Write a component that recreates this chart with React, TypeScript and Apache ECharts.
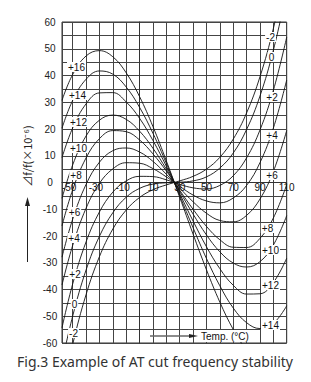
import React, { useEffect, useRef } from 'react';
import * as echarts from 'echarts';

// Temperature sample points (°C)
const temps = [-58, -50, -40, -30, -20, -10, 0, 10, 20, 30, 40, 50, 60, 70, 80, 90, 100, 110];

// Δf/f (ppm) for each cut-angle deviation curve
const curveP16 = [30.7, 40.4, 47.3, 49.3, 47.0, 41.0, 32.1, 20.9, 8.1, -5.5, -19.3, -32.6, -44.7, -54.9, -62.6, -67.0, -67.4, -63.2];
const curveP14 = [20.3, 30.7, 38.6, 41.7, 40.5, 35.7, 28.1, 18.4, 7.2, -4.9, -16.9, -28.4, -38.6, -46.9, -52.4, -54.6, -52.7, -46.1];
const curveP12 = [9.3, 20.4, 29.4, 33.5, 33.6, 30.1, 24.0, 15.7, 6.1, -4.2, -14.4, -24.0, -32.2, -38.4, -41.7, -41.6, -37.4, -28.3];
const curveP10 = [-5.9, 6.6, 17.4, 23.3, 25.2, 23.6, 19.2, 12.8, 5.0, -3.4, -11.8, -19.6, -25.9, -30.1, -31.6, -29.6, -23.4, -12.4];
const curveP8 = [-16.2, -2.7, 9.2, 16.4, 19.4, 19.0, 15.9, 10.7, 4.3, -2.9, -10.0, -16.4, -21.4, -24.2, -24.3, -20.9, -13.3, -0.8];
const curveP6 = [-27.9, -13.7, -0.7, 7.6, 11.9, 12.9, 11.4, 7.9, 3.1, -2.1, -7.2, -11.5, -14.2, -14.7, -12.3, -6.2, 4.1, 19.4];
const curveP4 = [-38.3, -23.5, -9.6, -0.3, 5.1, 7.4, 7.2, 5.2, 2.1, -1.4, -4.7, -6.9, -7.6, -5.8, -1.1, 7.4, 20.3, 38.3];
const curveP2 = [-54.3, -37.9, -22.2, -11.0, -3.6, 0.6, 2.3, 2.2, 1.0, -0.7, -2.0, -2.4, -1.1, 2.5, 9.2, 19.6, 34.4, 54.3];
const curve0 = [-67.3, -49.9, -32.7, -20.1, -11.3, -5.5, -2.2, -0.6, -0.1, 0.1, 0.6, 2.1, 5.4, 11.0, 19.8, 32.3, 49.4, 71.5];
const curveM2 = [-79.2, -60.5, -41.9, -27.7, -17.4, -10.3, -5.6, -2.7, -0.9, 0.6, 2.3, 5.0, 9.4, 16.2, 26.0, 39.5, 57.5, 80.6];

const curves = [curveP16, curveP14, curveP12, curveP10, curveP8, curveP6, curveP4, curveP2, curve0, curveM2];
const curveNames = ['+16', '+14', '+12', '+10', '+8', '+6', '+4', '+2', '0', '-2'];

// Axis tick labels
const xTickLabels = [-50, -30, -10, 10, 30, 50, 70, 90, 110];
const yTickLabels = [60, 50, 40, 30, 20, 10, 0, -10, -20, -30, -40, -50, -60];

const FONT = "'Liberation Sans', Arial, sans-serif";

export default function App() {
  const ref = useRef<HTMLDivElement>(null);

  useEffect(() => {
    document.body.style.margin = '0';
    if (!ref.current) return;
    const chart = echarts.init(ref.current, null, { renderer: 'svg' });

    const series: any[] = curves.map((vals, i) => ({
      type: 'line',
      name: curveNames[i],
      data: temps.map((t, j) => [t, vals[j]]),
      showSymbol: false,
      smooth: 0.4,
      clip: true,
      lineStyle: { color: '#111', width: 0.9 },
      z: 3,
    }));

    const leftLabelPos: [string, number, number][] = [
      ['+16', 76.5, 67], ['+14', 77.5, 95], ['+12', 78.5, 122], ['+10', 78.5, 148], ['+8', 76, 175],
      ['+6', 74.5, 212], ['+4', 74, 238], ['+2', 75, 274], ['0', 74.5, 304], ['-2', 73.5, 333],
    ];
    const rightLabelPos: [string, number, number][] = [
      ['-2', 270.5, 37], ['0', 271.5, 57], ['+2', 272, 97], ['+4', 272, 135], ['+6', 272, 175],
      ['+8', 267.5, 228], ['+10', 270.5, 250], ['+12', 270.5, 285], ['+14', 270.5, 325],
    ];
    const curveLabel = ([t, x, y]: [string, number, number]) => ({
      type: 'text',
      x,
      y,
      z: 100,
      style: {
        text: t,
        fill: '#111',
        font: `10px ${FONT}`,
        align: 'center',
        verticalAlign: 'middle',
        backgroundColor: '#fff',
        padding: [0, 1],
      },
    });

    const graphic: any[] = [
      ...leftLabelPos.map(curveLabel),
      ...rightLabelPos.map(curveLabel),
      // y-axis title
      {
        type: 'text',
        x: 27,
        y: 156,
        rotation: Math.PI / 2,
        z: 100,
        style: {
          text: '⊿f/f(×10⁻⁶)',
          fill: '#222',
          font: "11px 'Noto Sans CJK JP', sans-serif",
          align: 'center',
          verticalAlign: 'middle',
        },
      },
      {
        type: 'line',
        z: 100,
        shape: { x1: 27.5, y1: 204, x2: 27.5, y2: 262 },
        style: { stroke: '#222', lineWidth: 1 },
      },
      {
        type: 'polygon',
        z: 100,
        shape: { points: [[27.5, 197], [25, 206], [30, 206]] },
        style: { fill: '#222' },
      },
      // Temp. arrow
      {
        type: 'line',
        z: 100,
        shape: { x1: 150, y1: 336, x2: 192, y2: 336 },
        style: { stroke: '#666', lineWidth: 1.6 },
      },
      {
        type: 'polygon',
        z: 100,
        shape: { points: [[198, 336], [189, 334], [189, 338]] },
        style: { fill: '#222' },
      },
      {
        type: 'text',
        x: 199,
        y: 336,
        z: 100,
        style: {
          text: 'Temp. (°C)',
          fill: '#111',
          font: `10px ${FONT}`,
          align: 'left',
          verticalAlign: 'middle',
          backgroundColor: '#fff',
          padding: [1, 2],
        },
      },
      // caption
      {
        type: 'text',
        x: 17,
        y: 361,
        z: 100,
        style: {
          text: 'Fig.3 Example of AT cut frequency stability',
          fill: '#333',
          font: "14px 'Noto Sans', sans-serif",
          align: 'left',
          verticalAlign: 'middle',
        },
      },
    ];

    const option: any = {
      animation: false,
      backgroundColor: '#fff',
      grid: {
        left: 62,
        top: 22,
        width: 224.7,
        height: 321,
        show: true,
        borderColor: '#333',
        borderWidth: 1,
      },
      xAxis: {
        type: 'value',
        min: -58,
        max: 110,
        splitNumber: 17,
        offset: -160.5,
        axisLine: { show: true, onZero: false, lineStyle: { color: '#333', width: 1 } },
        axisTick: { show: false },
        axisLabel: {
          show: true,
          margin: 0,
          color: '#111',
          fontSize: 10,
          fontFamily: FONT,
          formatter: (v: number) => {
            if (!xTickLabels.includes(v)) return '';
            return v < 0 ? `{n|${v}}` : `${v}`;
          },
          rich: {
            n: { fontSize: 10, fontFamily: FONT, color: '#111', padding: [0, 7, 0, 0] },
          },
        },
        splitLine: { show: true, lineStyle: { color: '#444', width: 1 } },
      },
      yAxis: {
        type: 'value',
        min: -60,
        max: 60,
        interval: 5,
        axisLine: { show: true, lineStyle: { color: '#333', width: 1 } },
        axisTick: { show: false },
        axisLabel: {
          margin: 12,
          align: 'center',
          color: '#222',
          fontSize: 10,
          fontFamily: FONT,
          padding: [0, 0, 5, 0],
          formatter: (v: number) => (yTickLabels.includes(v) ? String(v) : ''),
        },
        splitLine: { show: true, lineStyle: { color: '#444', width: 1 } },
      },
      series,
      graphic,
    };

    chart.setOption(option);
    return () => chart.dispose();
  }, []);

  return <div ref={ref} style={{ width: 311, height: 382 }} />;
}
